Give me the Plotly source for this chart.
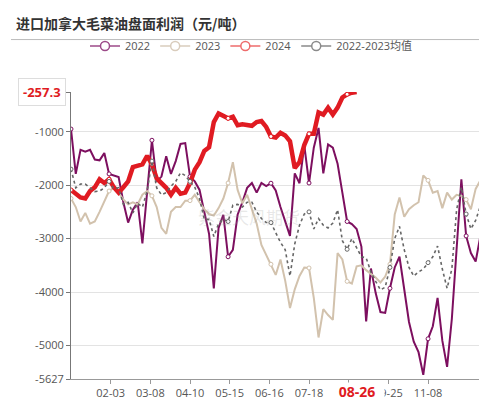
import plotly.graph_objects as go

# ---------------- data ----------------
title_text = "进口加拿大毛菜油盘面利润（元/吨）"
series_names = ["2022", "2023", "2024", "2022-2023均值"]
step = 3  # trading-day spacing between stored samples
tick_idx = [25, 50, 75, 100, 125, 150, 175, 200, 225]
tick_labels = ["02-03", "03-08", "04-10", "05-15", "06-16", "07-18", "08-20", "09-25", "11-08"]
current_label = "08-26"
current_value = -257.3
y_min = -5627
y_ticks = [-5627, -5000, -4000, -3000, -2000, -1000, -257.3]
y_tick_text = ["-5627", "-5000", "-4000", "-3000", "-2000", "-1000", ""]
marker_every = 25
watermark = "紫金天风期货"

v2022 = [-950, -1790, -1340, -1375, -1340, -1520, -1535, -1400, -1790, -1820,
         -1850, -2320, -2700, -2460, -2320, -3090, -2050, -1160, -1930, -1840,
         -1460, -1790, -1550, -1230, -1214, -1840, -1930, -2090, -2500, -2910,
         -3930, -2800, -2554, -3340, -3210, -2554, -2320, -2050, -1960, -2140,
         -1960, -2018, -1964, -2100, -2410, -2680, -2950, -1780, -1964, -1250,
         -1960, -1300, -930, -1780, -1240, -1300, -1600, -2140, -2680, -2730,
         -2820, -3150, -4550, -3560, -4020, -4375, -4390, -3930, -3540, -3340,
         -3930, -4560, -4930, -5125, -5550, -4875, -4640, -4110, -4910, -5400,
         -4500, -3250, -1890, -2950, -3270, -3430, -2950]

v2023 = [-2250, -2410, -2680, -2520, -2720, -2680, -2500, -2300, -2110, -2050,
         -2140, -2270, -2360, -2320, -2360, -2180, -2110, -2200, -2410, -2800,
         -2910, -2500, -2410, -2410, -2290, -2290, -2180, -2320, -2450, -2540,
         -2570, -2430, -2250, -1960, -1570, -2090, -2340, -2180, -2450, -2720,
         -3120, -3300, -3480, -3680, -3390, -3790, -4300, -3950, -3700, -3540,
         -3550, -4110, -4850, -4320, -4430, -4520, -3270, -3390, -3800, -3840,
         -3520, -3500, -3590, -3660, -3730, -3820, -3710, -3480, -2550, -2230,
         -2590, -2450, -2375, -2320, -1820, -1910, -2140, -2110, -2430, -2140,
         -2270, -2180, -2200, -2270, -2450, -2070, -1910]

v2024 = [-2090, -2160, -2230, -2250, -2110, -2040, -1890, -1960, -1890, -2040,
         -2140, -2040, -1930, -1660, -1640, -1610, -1450, -1610, -1875, -1960,
         -2050, -2180, -2050, -2160, -2140, -1960, -1710, -1570, -1360, -1290,
         -820, -660, -700, -750, -720, -880, -860, -880, -890, -820,
         -800, -910, -1090, -1110, -1020, -1070, -1180, -1680, -1570, -1250,
         -1040, -1040, -640, -680, -550, -680, -550, -360, -300, -270,
         -257.3]

vavg = [-1700, -2050, -1980, -1980, -2050, -2120, -2110, -2050, -1930, -2070,
        -2050, -2360, -2320, -2520, -2340, -2410, -2110, -1550, -2050, -2180,
        -2140, -2020, -1930, -1770, -1820, -1930, -2040, -2250, -2640, -2640,
        -2960, -2720, -2640, -2680, -2375, -2360, -2410, -2320, -2320, -2500,
        -2625, -2700, -2700, -2890, -3070, -3210, -3700, -3100, -2750, -2540,
        -2500, -2820, -2625, -2750, -2800, -2710, -2460, -3040, -3200, -3000,
        -3180, -3340, -3360, -3625, -3800, -3960, -3910, -3540, -3000, -2770,
        -3210, -3540, -3700, -3625, -3570, -3450, -3340, -3140, -3570, -3930,
        -3570, -2460, -2040, -2540, -2820, -2660, -2390]

# ---------------- styles ----------------
colors = ["#7d0f5f", "#d2c2ad", "#e01b22", "#666666"]
legend_colors = ["#9c4a88", "#d9ccbc", "#ee6b6b", "#8a8a8a"]
widths = [2, 2, 4.5, 1.6]
dashes = ["solid", "solid", "solid", "dot"]
n_days = 260

fig = go.Figure()
all_series = [v2022, v2023, v2024, vavg]
for name, vals, c, w, d in zip(series_names, all_series, colors, widths, dashes):
    xs = [i * step for i in range(len(vals))]
    fig.add_trace(go.Scatter(x=xs, y=vals, mode="lines", name=name,
                             line=dict(color=c, width=w, dash=d),
                             showlegend=False, hoverinfo="skip"))
    # sparse hollow symbols, as shown in the reference
    mk = sorted({round(m / step) for m in range(0, xs[-1] + 1, marker_every)})
    mk = [k for k in mk if k < len(vals)]
    fig.add_trace(go.Scatter(x=[xs[k] for k in mk], y=[vals[k] for k in mk],
                             mode="markers", showlegend=False, hoverinfo="skip",
                             marker=dict(symbol="circle", size=4, color="white",
                                         line=dict(color=c, width=1))))

for name, c in zip(series_names, legend_colors):
    fig.add_trace(go.Scatter(x=[None], y=[None], mode="lines+markers", name=name,
                             line=dict(color=c, width=1.5),
                             marker=dict(symbol="circle", size=9, color="white",
                                         line=dict(color=c, width=1.5))))

font_lat = "Open Sans, Noto Sans CJK SC, sans-serif"

fig.update_layout(
    width=487, height=404, autosize=False,
    margin=dict(l=63, r=13, t=84, b=19),
    paper_bgcolor="white", plot_bgcolor="white",
    font=dict(family=font_lat, size=11, color="#555"),
    title=dict(text="<b>" + title_text + "</b>", xref="container", yref="container",
               x=8 / 487, y=1 - 16 / 404, xanchor="left", yanchor="middle",
               font=dict(family="Noto Sans CJK SC", size=14, color="#333")),
    legend=dict(orientation="h", xref="container", yref="container",
                x=0.5, xanchor="center", y=1 - 38 / 404, yanchor="middle",
                font=dict(family=font_lat, size=11, color="#555"),
                itemwidth=30, bgcolor="rgba(0,0,0,0)"),
    xaxis=dict(range=[0, n_days - 1], tickvals=tick_idx, ticktext=tick_labels,
               showgrid=False, zeroline=False, showline=True, linecolor="#999",
               linewidth=1.2, ticks="outside", ticklen=4, tickcolor="#999",
               tickfont=dict(size=11, color="#555")),
    yaxis=dict(range=[y_min, current_value], tickvals=y_ticks, ticktext=y_tick_text,
               showgrid=True, gridcolor="#e3e3e3", gridwidth=1, zeroline=False,
               showline=True, linecolor="#777", linewidth=1, ticks="outside",
               ticklen=4, tickcolor="#777", tickfont=dict(size=11, color="#555")),
    showlegend=True,
)

# header separator
fig.add_shape(type="line", xref="paper", yref="paper",
              x0=-60 / 411, x1=424 / 411, y0=356 / 301, y1=356 / 301,
              line=dict(color="#bbb", width=1))

# watermark
fig.add_annotation(text=watermark, x=112, y=-2590, xref="x", yref="y",
                   showarrow=False, font=dict(family="Noto Sans CJK SC", size=17,
                                              color="rgba(150,150,150,0.22)"))

# current value pointer label on y axis
fig.add_annotation(text="<b>%s</b>" % current_value, xref="paper", yref="y",
                   x=0, y=current_value, xanchor="right", yanchor="middle", xshift=-5,
                   showarrow=False, bgcolor="white", bordercolor="#ddd", borderwidth=1,
                   borderpad=4, font=dict(family=font_lat, size=13, color="#e01b22"))

# current date pointer label on x axis (white box hides neighbouring tick labels)
fig.add_annotation(text="<b>%s</b>" % current_label, xref="x", yref="paper",
                   x=(len(v2024) - 1) * step, y=0, yanchor="middle", yshift=-12,
                   width=54, height=16, align="center",
                   showarrow=False, bgcolor="white", borderpad=0,
                   font=dict(family=font_lat, size=14, color="#e01b22"))

fig.write_html("out.html")
